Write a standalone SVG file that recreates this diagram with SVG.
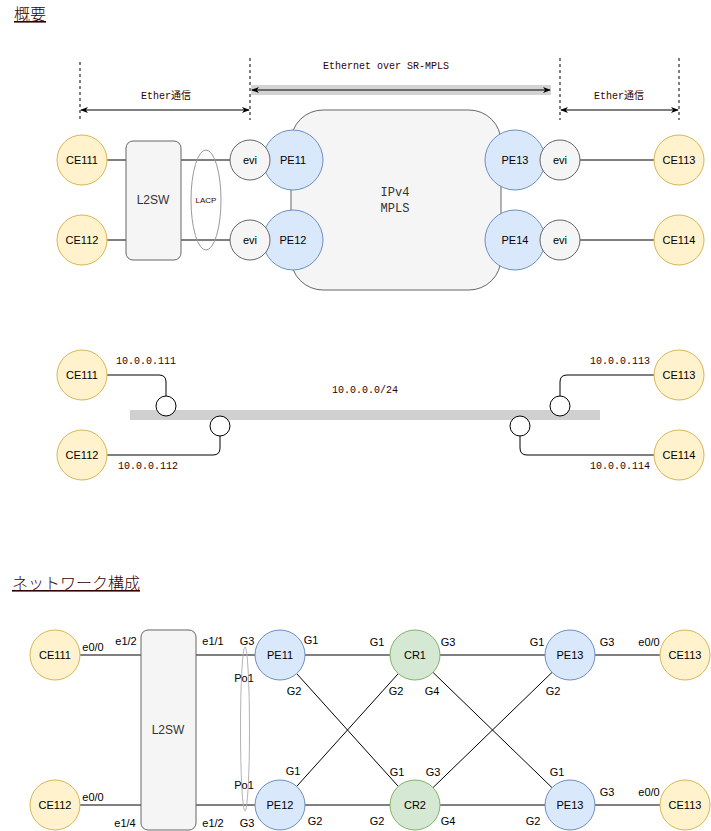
<svg xmlns="http://www.w3.org/2000/svg" width="711" height="831" viewBox="0 0 711 831">
<style>
.bg{fill:#ffffff}
.ce{fill:#fff2cc;stroke:#d6b656;stroke-width:1}
.pe{fill:#dae8fc;stroke:#6c8ebf;stroke-width:1}
.cr{fill:#d5e8d4;stroke:#82b366;stroke-width:1}
.evi{fill:#f5f5f5;stroke:#666666;stroke-width:1}
.box{fill:#f5f5f5;stroke:#666666;stroke-width:1}
.ln{fill:none;stroke:#000000;stroke-width:1}
.dash{fill:none;stroke:#000000;stroke-width:1;stroke-dasharray:3 3}
.lbl{font-family:"Liberation Sans",Arial,sans-serif;font-size:11px;fill:#000000;text-anchor:middle;dominant-baseline:central}
.sw{font-family:"Liberation Sans",Arial,sans-serif;font-size:12px;fill:#333333;text-anchor:middle;dominant-baseline:central}
.mono{font-family:"Liberation Mono","Noto Sans CJK JP",monospace;font-size:10px;fill:#330000;text-anchor:middle;dominant-baseline:central}
.port{font-family:"Liberation Sans",Arial,sans-serif;font-size:11px;fill:#000000;text-anchor:middle;dominant-baseline:central}
.title{font-family:"Noto Sans CJK JP","Liberation Sans",sans-serif;font-size:16px;font-weight:300;fill:#330000;text-decoration:underline}
.hole{fill:#ffffff;stroke:#000000;stroke-width:1}
</style>
<defs>
<marker id="ah" viewBox="0 0 10 10" refX="9" refY="5" markerWidth="8" markerHeight="8" orient="auto-start-reverse" markerUnits="userSpaceOnUse">
<path d="M0,1 L10,5 L0,9 L3,5 z" fill="#000"/>
</marker>
</defs>
<rect class="bg" x="0" y="0" width="711" height="831"/>

<!-- Titles -->
<text class="title" x="14" y="20">概要</text>
<text class="title" x="12" y="589">ネットワーク構成</text>

<!-- ===== Section 1 ===== -->
<g id="scope-lines">
<line class="dash" x1="80" y1="62" x2="80" y2="120"/>
<line class="dash" x1="250" y1="58" x2="250" y2="120"/>
<line class="dash" x1="560" y1="58" x2="560" y2="120"/>
<line class="dash" x1="679" y1="58" x2="679" y2="120"/>
</g>
<g id="ether-left">
<line class="ln" x1="81" y1="110" x2="249" y2="110" marker-start="url(#ah)" marker-end="url(#ah)"/>
<text class="mono" x="166" y="96">Ether通信</text>
</g>
<g id="ether-right">
<line class="ln" x1="561" y1="110" x2="678" y2="110" marker-start="url(#ah)" marker-end="url(#ah)"/>
<text class="mono" x="619" y="96">Ether通信</text>
</g>
<g id="eth-over-srmpls">
<rect x="251" y="85" width="300" height="10" fill="#d3d3d3"/>
<line class="ln" x1="252" y1="90" x2="550" y2="90" marker-start="url(#ah)" marker-end="url(#ah)"/>
<text class="mono" x="386" y="66">Ethernet over SR-MPLS</text>
</g>

<g id="s1-connectors">
<line class="ln" x1="107" y1="160" x2="126" y2="160"/>
<line class="ln" x1="107" y1="240" x2="126" y2="240"/>
<line class="ln" x1="181" y1="160" x2="230" y2="160"/>
<line class="ln" x1="181" y1="240" x2="230" y2="240"/>
<line class="ln" x1="580" y1="160" x2="654" y2="160"/>
<line class="ln" x1="580" y1="240" x2="654" y2="240"/>
</g>

<g id="mpls-cloud">
<rect class="box" x="291" y="110" width="210" height="180" rx="32" ry="32"/>
<text x="395" y="193" font-family="Liberation Mono,monospace" font-size="12" fill="#333333" text-anchor="middle" dominant-baseline="central">IPv4</text>
<text x="395" y="209" font-family="Liberation Mono,monospace" font-size="12" fill="#333333" text-anchor="middle" dominant-baseline="central">MPLS</text>
</g>
<g id="s1-ce111"><circle class="ce" cx="82" cy="160" r="25"/><text class="lbl" x="82" y="160">CE111</text></g>
<g id="s1-ce112"><circle class="ce" cx="82" cy="240" r="25"/><text class="lbl" x="82" y="240">CE112</text></g>
<g id="s1-l2sw"><rect class="box" x="126" y="141" width="55" height="119" rx="7" ry="7"/><text class="sw" x="153" y="200">L2SW</text></g>
<g id="s1-lacp"><ellipse cx="206" cy="200" rx="15" ry="50" fill="none" stroke="#999999"/><text x="206" y="200" font-family="Liberation Sans,Arial,sans-serif" font-size="8" fill="#330000" text-anchor="middle" dominant-baseline="central">LACP</text></g>
<g id="s1-pe11"><circle class="pe" cx="293" cy="160" r="30"/><text class="lbl" x="293" y="160">PE11</text></g>
<g id="s1-pe12"><circle class="pe" cx="293" cy="240" r="30"/><text class="lbl" x="293" y="240">PE12</text></g>
<g id="s1-evi11"><circle class="evi" cx="250" cy="160" r="20"/><text class="lbl" x="250" y="160" fill="#333">evi</text></g>
<g id="s1-evi12"><circle class="evi" cx="250" cy="240" r="20"/><text class="lbl" x="250" y="240" fill="#333">evi</text></g>
<g id="s1-pe13"><circle class="pe" cx="515" cy="160" r="30"/><text class="lbl" x="515" y="160">PE13</text></g>
<g id="s1-pe14"><circle class="pe" cx="515" cy="240" r="30"/><text class="lbl" x="515" y="240">PE14</text></g>
<g id="s1-evi13"><circle class="evi" cx="560" cy="160" r="20"/><text class="lbl" x="560" y="160" fill="#333">evi</text></g>
<g id="s1-evi14"><circle class="evi" cx="560" cy="240" r="20"/><text class="lbl" x="560" y="240" fill="#333">evi</text></g>
<g id="s1-ce113"><circle class="ce" cx="679" cy="160" r="25"/><text class="lbl" x="679" y="160">CE113</text></g>
<g id="s1-ce114"><circle class="ce" cx="679" cy="240" r="25"/><text class="lbl" x="679" y="240">CE114</text></g>

<!-- ===== Section 2 ===== -->
<g id="segment">
<rect x="130" y="410" width="470" height="10" fill="#d0d0d0"/>
<text class="mono" x="365" y="390">10.0.0.0/24</text>
</g>
<g id="s2-connectors">
<path class="ln" d="M107,375 H159 Q166,375 166,382 V396"/>
<path class="ln" d="M107,455 H213 Q220,455 220,448 V436"/>
<path class="ln" d="M654,375 H567 Q560,375 560,382 V396"/>
<path class="ln" d="M654,455 H527 Q520,455 520,448 V436"/>
</g>
<g id="s2-if111"><circle class="hole" cx="166" cy="406" r="10"/><text class="mono" x="146" y="361">10.0.0.111</text></g>
<g id="s2-if112"><circle class="hole" cx="220" cy="426" r="10"/><text class="mono" x="148" y="466">10.0.0.112</text></g>
<g id="s2-if113"><circle class="hole" cx="560" cy="406" r="10"/><text class="mono" x="620" y="361">10.0.0.113</text></g>
<g id="s2-if114"><circle class="hole" cx="520" cy="426" r="10"/><text class="mono" x="620" y="466">10.0.0.114</text></g>
<g id="s2-ce111"><circle class="ce" cx="82" cy="375" r="25"/><text class="lbl" x="82" y="375">CE111</text></g>
<g id="s2-ce112"><circle class="ce" cx="82" cy="455" r="25"/><text class="lbl" x="82" y="455">CE112</text></g>
<g id="s2-ce113"><circle class="ce" cx="679" cy="375" r="25"/><text class="lbl" x="679" y="375">CE113</text></g>
<g id="s2-ce114"><circle class="ce" cx="679" cy="455" r="25"/><text class="lbl" x="679" y="455">CE114</text></g>

<!-- ===== Section 3 ===== -->
<g id="s3-connectors">
<line class="ln" x1="80" y1="655" x2="141" y2="655"/>
<line class="ln" x1="80" y1="805" x2="141" y2="805"/>
<line class="ln" x1="196" y1="655" x2="255" y2="655"/>
<line class="ln" x1="196" y1="805" x2="255" y2="805"/>
<line class="ln" x1="305" y1="655" x2="390" y2="655"/>
<line class="ln" x1="305" y1="805" x2="390" y2="805"/>
<line class="ln" x1="440" y1="655" x2="545" y2="655"/>
<line class="ln" x1="440" y1="805" x2="545" y2="805"/>
<line class="ln" x1="595" y1="655" x2="660" y2="655"/>
<line class="ln" x1="595" y1="805" x2="660" y2="805"/>
<line class="ln" x1="296.7" y1="673.6" x2="398.3" y2="786.4"/>
<line class="ln" x1="296.7" y1="786.4" x2="398.3" y2="673.6"/>
<line class="ln" x1="433" y1="672.4" x2="552" y2="787.6"/>
<line class="ln" x1="433" y1="787.6" x2="552" y2="672.4"/>
</g>
<g id="s3-po1"><ellipse cx="245" cy="729" rx="4.5" ry="82" fill="none" stroke="#b3b3b3"/></g>
<g id="s3-labels">
<text class="port" x="93" y="647">e0/0</text>
<text class="port" x="126" y="641">e1/2</text>
<text class="port" x="213" y="641">e1/1</text>
<text class="port" x="247" y="641">G3</text>
<text class="port" x="244" y="678">Po1</text>
<text class="port" x="311" y="640">G1</text>
<text class="port" x="294" y="691">G2</text>
<text class="port" x="377" y="642">G1</text>
<text class="port" x="448" y="642">G3</text>
<text class="port" x="396" y="691">G2</text>
<text class="port" x="432" y="691">G4</text>
<text class="port" x="537" y="642">G1</text>
<text class="port" x="607" y="642">G3</text>
<text class="port" x="553" y="691">G2</text>
<text class="port" x="649" y="642">e0/0</text>
<text class="port" x="93" y="797">e0/0</text>
<text class="port" x="125" y="823">e1/4</text>
<text class="port" x="213" y="823">e1/2</text>
<text class="port" x="247" y="823">G3</text>
<text class="port" x="244" y="785">Po1</text>
<text class="port" x="293" y="771">G1</text>
<text class="port" x="315" y="821">G2</text>
<text class="port" x="397" y="772">G1</text>
<text class="port" x="433" y="772">G3</text>
<text class="port" x="377" y="821">G2</text>
<text class="port" x="448" y="821">G4</text>
<text class="port" x="557" y="772">G1</text>
<text class="port" x="607" y="792">G3</text>
<text class="port" x="533" y="821">G2</text>
<text class="port" x="649" y="792">e0/0</text>
</g>
<g id="s3-ce111"><circle class="ce" cx="55" cy="655" r="25"/><text class="lbl" x="55" y="655">CE111</text></g>
<g id="s3-ce112"><circle class="ce" cx="55" cy="805" r="25"/><text class="lbl" x="55" y="805">CE112</text></g>
<g id="s3-l2sw"><rect class="box" x="141" y="630" width="55" height="200" rx="7" ry="7"/><text class="sw" x="168" y="730">L2SW</text></g>
<g id="s3-pe11"><circle class="pe" cx="280" cy="655" r="25"/><text class="lbl" x="280" y="655">PE11</text></g>
<g id="s3-pe12"><circle class="pe" cx="280" cy="805" r="25"/><text class="lbl" x="280" y="805">PE12</text></g>
<g id="s3-cr1"><circle class="cr" cx="415" cy="655" r="25"/><text class="lbl" x="415" y="655">CR1</text></g>
<g id="s3-cr2"><circle class="cr" cx="415" cy="805" r="25"/><text class="lbl" x="415" y="805">CR2</text></g>
<g id="s3-pe13a"><circle class="pe" cx="570" cy="655" r="25"/><text class="lbl" x="570" y="655">PE13</text></g>
<g id="s3-pe13b"><circle class="pe" cx="570" cy="805" r="25"/><text class="lbl" x="570" y="805">PE13</text></g>
<g id="s3-ce113a"><circle class="ce" cx="685" cy="655" r="25"/><text class="lbl" x="685" y="655">CE113</text></g>
<g id="s3-ce113b"><circle class="ce" cx="685" cy="805" r="25"/><text class="lbl" x="685" y="805">CE113</text></g>
</svg>
